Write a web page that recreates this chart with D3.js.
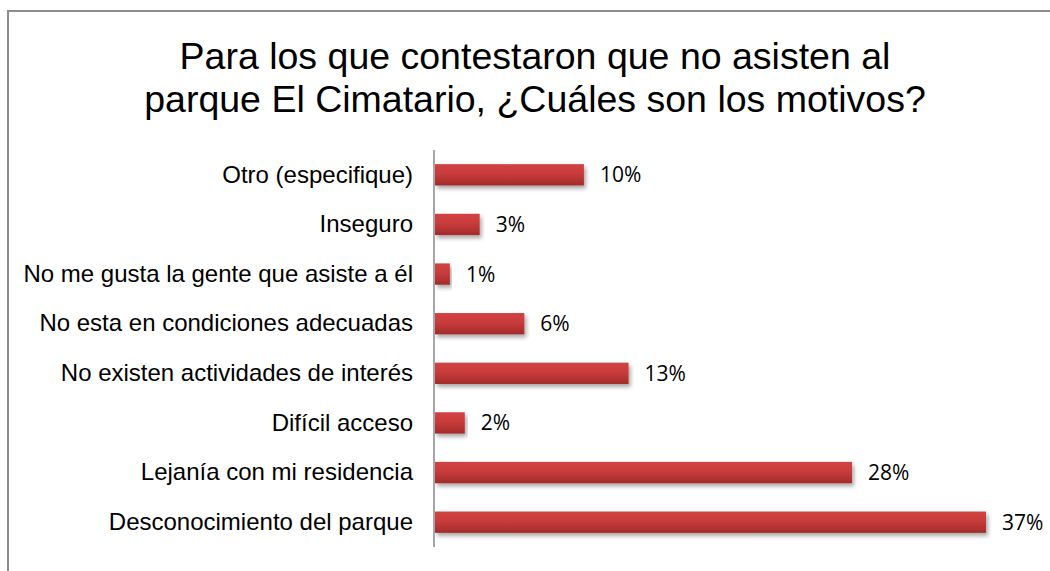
<!DOCTYPE html>
<html>
<head>
<meta charset="utf-8">
<script src="https://cdn.jsdelivr.net/npm/d3@7"></script>
<style>
  html, body { margin: 0; padding: 0; background: #fff; }
  svg { display: block; }
</style>
</head>
<body>
<svg id="chart" width="1050" height="571"></svg>
<script>
// Survey answers, listed top to bottom as shown
const categories = [
  "Otro (especifique)",
  "Inseguro",
  "No me gusta la gente que asiste a él",
  "No esta en condiciones adecuadas",
  "No existen actividades de interés",
  "Difícil acceso",
  "Lejanía con mi residencia",
  "Desconocimiento del parque"
];
const percentages = [10, 3, 1, 6, 13, 2, 28, 37];
const titleLines = [
  "Para los que contestaron que no asisten al",
  "parque El Cimatario, ¿Cuáles son los motivos?"
];

const svg = d3.select("#chart");
const W = 1050, H = 571;

// Outer frame
svg.append("rect")
  .attr("x", 8).attr("y", 11)
  .attr("width", W).attr("height", H)
  .attr("fill", "#fff")
  .attr("stroke", "#8c8c8c")
  .attr("stroke-width", 2);

// Title
svg.append("g").selectAll("text")
  .data(titleLines)
  .join("text")
  .attr("x", 535)
  .attr("y", (d, i) => 69 + i * 43)
  .attr("text-anchor", "middle")
  .attr("font-family", "Liberation Sans, Arial, sans-serif")
  .attr("font-size", 37.5)
  .attr("fill", "#000")
  .text(d => d);

const x0 = 435;
const x = d3.scaleLinear().domain([0, 37]).range([x0, 986]);
const y = d3.scaleBand().domain(categories).range([150, 547]).paddingInner(0.57).paddingOuter(0.285);

const defs = svg.append("defs");
const grad = defs.append("linearGradient")
  .attr("id", "barFill").attr("x1", 0).attr("y1", 0).attr("x2", 0).attr("y2", 1);
grad.append("stop").attr("offset", "0%").attr("stop-color", "#d24343");
grad.append("stop").attr("offset", "45%").attr("stop-color", "#c83b3b");
grad.append("stop").attr("offset", "100%").attr("stop-color", "#a22b2b");

const shadow = defs.append("filter").attr("id", "barShadow")
  .attr("x", "-5%").attr("y", "-30%").attr("width", "115%").attr("height", "180%");
shadow.append("feGaussianBlur").attr("in", "SourceAlpha").attr("stdDeviation", 2.2).attr("result", "blur");
shadow.append("feOffset").attr("in", "blur").attr("dx", 2).attr("dy", 3).attr("result", "off");
shadow.append("feComponentTransfer").attr("in", "off").attr("result", "soft")
  .append("feFuncA").attr("type", "linear").attr("slope", 0.35);
const merge = shadow.append("feMerge");
merge.append("feMergeNode").attr("in", "soft");
merge.append("feMergeNode").attr("in", "SourceGraphic");

// Bars
svg.append("g").selectAll("rect")
  .data(categories)
  .join("rect")
  .attr("x", x0)
  .attr("y", d => y(d))
  .attr("width", (d, i) => x(percentages[i]) - x0)
  .attr("height", y.bandwidth())
  .attr("fill", "url(#barFill)")
  .attr("filter", "url(#barShadow)");

// Category axis
const axis = svg.append("g")
  .attr("transform", `translate(${x0 - 1},0)`)
  .call(d3.axisLeft(y).tickSize(0).tickPadding(21));
axis.select(".domain").attr("stroke", "#a6a6a6").attr("stroke-width", 2)
  .attr("d", "M0,150V547");
axis.selectAll("text")
  .attr("font-family", "Liberation Sans, Arial, sans-serif")
  .attr("font-size", 24)
  .attr("fill", "#000");

// Value labels
svg.append("g").selectAll("text")
  .data(categories)
  .join("text")
  .attr("x", (d, i) => x(percentages[i]) + 16)
  .attr("y", d => y(d) + y.bandwidth() / 2)
  .attr("dy", "0.36em")
  .attr("font-family", "Open Sans, sans-serif")
  .attr("font-size", 21)
  .attr("fill", "#000")
  .text((d, i) => percentages[i] + "%");
</script>
</body>
</html>
